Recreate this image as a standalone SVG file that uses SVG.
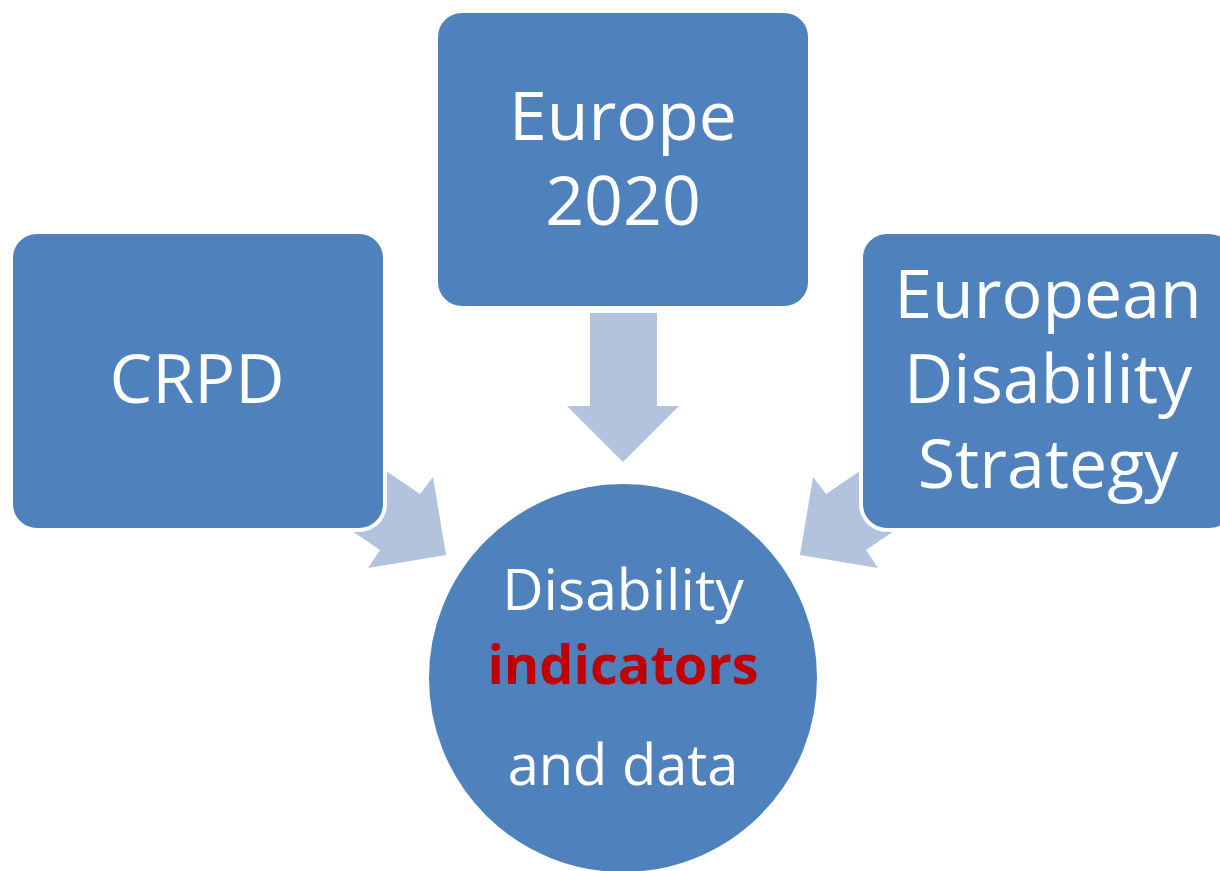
<svg xmlns="http://www.w3.org/2000/svg" width="1220" height="871" viewBox="0 0 1220 871">
<style>
.box{fill:#4F81BD;stroke:#FFFFFF;stroke-width:4}
.arr{fill:#B3C2DD}
.t{font-family:"Open Sans","Liberation Sans",sans-serif;fill:#FFFFFF;text-anchor:middle}
.big{font-size:68px}
.mid{font-size:56px}
</style>
<rect width="1220" height="871" fill="#FFFFFF"/>
<g id="connectors">
<polygon class="arr" points="590,313 657,313 657,406 679,406 623,462 567,406 590,406"/>
<polygon class="arr" points="358,452 389,473 420,494 433,477 446,555 368,568 380,550 318,508"/>
<polygon class="arr" points="888,452 857,473 826,494 813,477 800,555 878,568 866,550 928,508"/>
</g>
<g id="crpd">
<rect class="box" x="11" y="232" width="374" height="298" rx="26"/>
<text class="t big" x="197" y="403">CRPD</text>
</g>
<g id="europe2020">
<rect class="box" x="436" y="11" width="374" height="297" rx="26"/>
<text class="t big" x="623" y="140">Europe</text>
<text class="t big" x="623" y="225">2020</text>
</g>
<g id="eds">
<rect class="box" x="861" y="232" width="374" height="298" rx="26"/>
<text class="t big" x="1048" y="318">European</text>
<text class="t big" x="1048" y="403">Disability</text>
<text class="t big" x="1048" y="488">Strategy</text>
</g>
<g id="indicators">
<circle class="box" cx="623" cy="678" r="196"/>
<text class="t mid" x="623" y="610" style="font-size:57px">Disability</text>
<text class="t mid" x="623" y="684" style="fill:#C00000;font-weight:bold;font-size:54px">indicators</text>
<text class="t mid" x="623" y="785">and data</text>
</g>
</svg>
